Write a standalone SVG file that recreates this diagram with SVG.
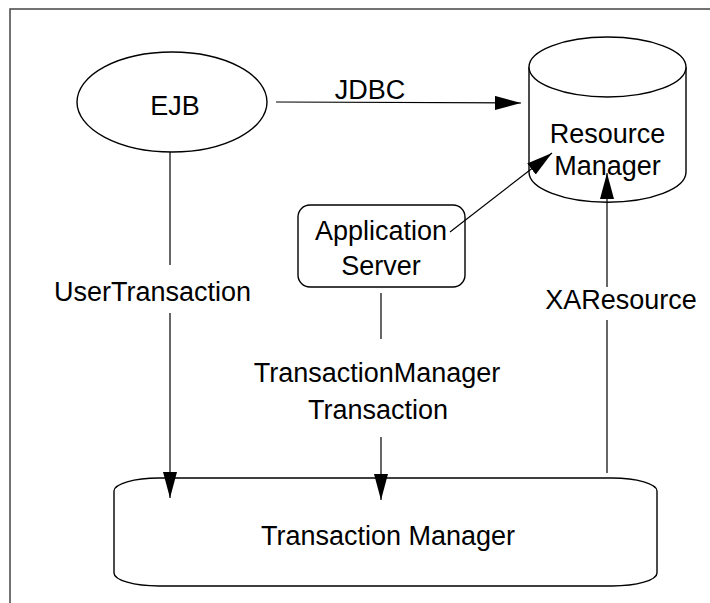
<svg xmlns="http://www.w3.org/2000/svg" width="710" height="603" viewBox="0 0 710 603">
<style>
.shape{fill:#fff;stroke:#000;stroke-width:1.4}
.ln{fill:none;stroke:#000;stroke-width:1.2}
text{font-family:"Liberation Sans",Arial,Helvetica,sans-serif;font-size:27px;fill:#000;text-anchor:middle}
</style>
<defs>
<marker id="ah" markerUnits="userSpaceOnUse" markerWidth="27" markerHeight="15" refX="26" refY="7" orient="auto">
<path d="M0,0 L26,7 L0,14 z" fill="#000"/>
</marker>
</defs>
<rect width="710" height="603" fill="#fff"/>
<path d="M10,603 V9 H710" fill="none" stroke="#444" stroke-width="1.5"/>
<g id="ejb">
<ellipse class="shape" cx="172" cy="102" rx="95" ry="50"/>
<text x="175" y="115">EJB</text>
</g>
<g id="resource-manager">
<path class="shape" d="M529,67 V172 A78,30 0 0 0 686,172 V67"/>
<ellipse class="shape" cx="607.5" cy="67" rx="78.5" ry="30"/>
<text x="607.5" y="143">Resource</text>
<text x="607.5" y="175">Manager</text>
</g>
<g id="application-server">
<rect class="shape" x="298" y="205" width="167" height="82" rx="12"/>
<text x="381" y="240">Application</text>
<text x="381" y="275">Server</text>
</g>
<g id="transaction-manager">
<rect class="shape" x="114" y="478" width="543" height="108" rx="45" ry="13"/>
<text x="388" y="545">Transaction Manager</text>
</g>
<g id="connectors">
<line class="ln" x1="276" y1="102" x2="521" y2="103" marker-end="url(#ah)"/>
<text x="370" y="99">JDBC</text>
<line class="ln" x1="170" y1="152" x2="170" y2="265"/>
<line class="ln" x1="170" y1="313" x2="170" y2="498" marker-end="url(#ah)"/>
<text x="152.5" y="301">UserTransaction</text>
<line class="ln" x1="381" y1="293" x2="381" y2="339"/>
<line class="ln" x1="381" y1="437" x2="381" y2="500" marker-end="url(#ah)"/>
<text x="377" y="382">TransactionManager</text>
<text x="378" y="419">Transaction</text>
<line class="ln" x1="607" y1="473" x2="607" y2="320"/>
<line class="ln" x1="607" y1="287" x2="607" y2="173" marker-end="url(#ah)"/>
<text x="621" y="309">XAResource</text>
<line class="ln" x1="450" y1="232" x2="552" y2="153" marker-end="url(#ah)"/>
</g>
</svg>
